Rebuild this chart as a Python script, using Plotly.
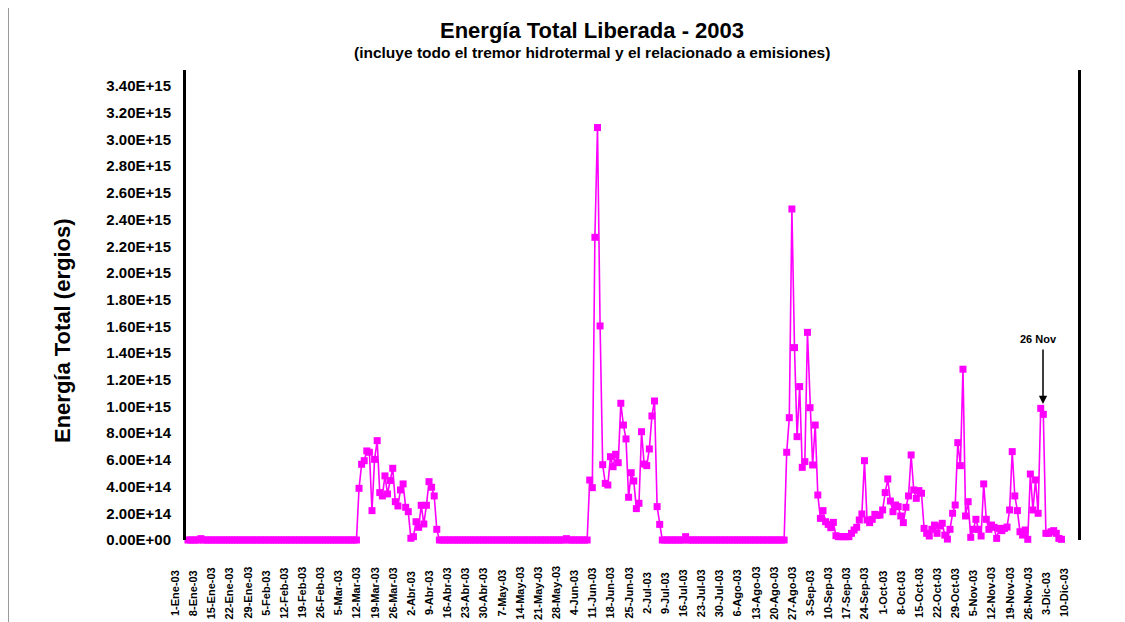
import pandas as pd
import plotly.graph_objects as go

# ---------------- data ----------------
start_date = "2003-01-06"

# daily total energy, in units of 1E14 ergios (Jan 6 .. Dec 9, 2003)
baseline_jan_mar = [
    0.0, 0.0, 0.0, 0.0, 0.0, 0.1, 0.0, 0.0, 0.0, 0.0,
    0.0, 0.0, 0.0, 0.0, 0.0, 0.0, 0.0, 0.0, 0.0, 0.0,
    0.0, 0.0, 0.0, 0.0, 0.0, 0.0, 0.0, 0.0, 0.0, 0.0,
    0.0, 0.0, 0.0, 0.0, 0.0, 0.0, 0.0, 0.0, 0.0, 0.0,
    0.0, 0.0, 0.0, 0.0, 0.0, 0.0, 0.0, 0.0, 0.0, 0.0,
    0.0, 0.0, 0.0, 0.0, 0.0, 0.0, 0.0, 0.0, 0.0, 0.0,
    0.0, 0.0, 0.0, 0.0, 0.0, 0.0,
]
cluster_mar_apr = [
    3.87, 5.67, 5.94, 6.67, 6.57, 2.2, 6.04, 7.44, 3.55, 3.3,
    4.8, 3.45, 4.45, 5.37, 2.87, 2.55, 3.75, 4.2, 2.45, 2.12,
    0.13, 0.25, 1.37, 0.95, 2.6, 1.2, 2.6, 4.37, 3.95, 3.3,
    0.8,
]
baseline_apr_jun = [
    0.0, 0.0, 0.0, 0.0, 0.0, 0.0, 0.0, 0.0, 0.0, 0.0,
    0.0, 0.0, 0.0, 0.0, 0.0, 0.0, 0.0, 0.0, 0.0, 0.0,
    0.0, 0.0, 0.0, 0.0, 0.0, 0.0, 0.0, 0.0, 0.0, 0.0,
    0.0, 0.0, 0.0, 0.0, 0.0, 0.0, 0.0, 0.0, 0.0, 0.0,
    0.0, 0.0, 0.0, 0.0, 0.0, 0.0, 0.0, 0.0, 0.0, 0.1,
    0.0, 0.0, 0.0, 0.0, 0.0, 0.0, 0.0, 0.0,
]
cluster_jun_jul = [
    4.49, 3.92, 22.67, 30.89, 16.03, 5.64, 4.24, 4.12, 6.24, 5.49,
    6.42, 5.79, 10.24, 8.61, 7.57, 3.2, 5.04, 4.42, 2.35, 2.75,
    8.11, 5.69, 5.57, 6.82, 9.29, 10.41, 2.5, 1.17,
]
baseline_jul_aug = [
    0.0, 0.0, 0.0, 0.0, 0.0, 0.0, 0.0, 0.0, 0.0, 0.25,
    0.0, 0.0, 0.0, 0.0, 0.0, 0.0, 0.0, 0.0, 0.0, 0.0,
    0.0, 0.0, 0.0, 0.0, 0.0, 0.0, 0.0, 0.0, 0.0, 0.0,
    0.0, 0.0, 0.0, 0.0, 0.0, 0.0, 0.0, 0.0, 0.0, 0.0,
    0.0, 0.0, 0.0, 0.0, 0.0, 0.0, 0.0, 0.0,
]
cluster_aug_dec = [
    6.57, 9.16, 24.79, 14.41, 7.74, 11.49, 5.44, 5.87, 15.55, 9.91,
    5.62, 8.61, 3.37, 1.62, 2.2, 1.37, 1.17, 0.92, 1.32, 0.32,
    0.25, 0.25, 0.25, 0.25, 0.25, 0.5, 0.75, 0.95, 1.5, 1.95,
    5.94, 1.5, 1.3, 1.55, 1.92, 1.85, 1.87, 2.25, 3.55, 4.57,
    2.92, 2.12, 2.62, 2.5, 1.8, 1.3, 2.45, 3.3, 6.37, 3.75,
    3.12, 3.7, 3.5, 0.87, 0.5, 0.3, 0.8, 1.12, 0.5, 1.05,
    1.25, 0.37, 0.07, 0.8, 2.0, 2.62, 7.29, 5.57, 12.79, 1.8,
    2.87, 0.2, 0.8, 1.55, 0.8, 0.3, 4.2, 1.55, 0.8, 1.12,
    0.95, 0.12, 0.87, 0.7, 0.87, 0.97, 2.25, 6.62, 3.3, 2.2,
    0.62, 0.37, 0.75, 0.05, 4.94, 2.25, 4.5, 2.0, 9.86, 9.41,
    0.5, 0.5, 0.62, 0.7, 0.5, 0.12, 0.05,
]

x_tick_dates = [
    "2003-01-01", "2003-01-08", "2003-01-15", "2003-01-22", "2003-01-29",
    "2003-02-05", "2003-02-12", "2003-02-19", "2003-02-26", "2003-03-05",
    "2003-03-12", "2003-03-19", "2003-03-26", "2003-04-02", "2003-04-09",
    "2003-04-16", "2003-04-23", "2003-04-30", "2003-05-07", "2003-05-14",
    "2003-05-21", "2003-05-28", "2003-06-04", "2003-06-11", "2003-06-18",
    "2003-06-25", "2003-07-02", "2003-07-09", "2003-07-16", "2003-07-23",
    "2003-07-30", "2003-08-06", "2003-08-13", "2003-08-20", "2003-08-27",
    "2003-09-03", "2003-09-10", "2003-09-17", "2003-09-24", "2003-10-01",
    "2003-10-08", "2003-10-15", "2003-10-22", "2003-10-29", "2003-11-05",
    "2003-11-12", "2003-11-19", "2003-11-26", "2003-12-03", "2003-12-10",
]
x_tick_labels = [
    "1-Ene-03", "8-Ene-03", "15-Ene-03", "22-Ene-03", "29-Ene-03",
    "5-Feb-03", "12-Feb-03", "19-Feb-03", "26-Feb-03", "5-Mar-03",
    "12-Mar-03", "19-Mar-03", "26-Mar-03", "2-Abr-03", "9-Abr-03",
    "16-Abr-03", "23-Abr-03", "30-Abr-03", "7-May-03", "14-May-03",
    "21-May-03", "28-May-03", "4-Jun-03", "11-Jun-03", "18-Jun-03",
    "25-Jun-03", "2-Jul-03", "9-Jul-03", "16-Jul-03", "23-Jul-03",
    "30-Jul-03", "6-Ago-03", "13-Ago-03", "20-Ago-03", "27-Ago-03",
    "3-Sep-03", "10-Sep-03", "17-Sep-03", "24-Sep-03", "1-Oct-03",
    "8-Oct-03", "15-Oct-03", "22-Oct-03", "29-Oct-03", "5-Nov-03",
    "12-Nov-03", "19-Nov-03", "26-Nov-03", "3-Dic-03", "10-Dic-03",
]
y_tick_values = [
    0.0, 2e14, 4e14, 6e14, 8e14, 1.0e15, 1.2e15, 1.4e15, 1.6e15,
    1.8e15, 2.0e15, 2.2e15, 2.4e15, 2.6e15, 2.8e15, 3.0e15, 3.2e15, 3.4e15,
]
y_tick_labels = [
    "0.00E+00", "2.00E+14", "4.00E+14", "6.00E+14", "8.00E+14", "1.00E+15",
    "1.20E+15", "1.40E+15", "1.60E+15", "1.80E+15", "2.00E+15", "2.20E+15",
    "2.40E+15", "2.60E+15", "2.80E+15", "3.00E+15", "3.20E+15", "3.40E+15",
]

title_text = "Energía Total Liberada - 2003"
subtitle_text = "(incluye todo el tremor hidrotermal y el relacionado a emisiones)"
y_title_text = "Energía Total (ergios)"
note_text = "26 Nov"

# ---------------- build ----------------
values_e14 = (baseline_jan_mar + cluster_mar_apr + baseline_apr_jun
              + cluster_jun_jul + baseline_jul_aug + cluster_aug_dec)
dates = pd.date_range(start_date, periods=len(values_e14), freq="D")
energy = [v * 1e14 for v in values_e14]

FONT = "Liberation Sans, Arial, sans-serif"
MAG = "#FF00FF"

# the page body has an 8px margin: figure drawn at screen offset (8, 8)
OFF = 8
W, H = 1125 - OFF, 622 - OFF
L, R, T, B = 186, 1078, 70, 540   # plot area in screen pixels
X_RANGE = ["2003-01-05 05:51", "2003-12-15 09:07"]


def px(x):
    return (x - L) / (R - L)


def py(y):
    return (B - y) / (B - T)


def date_frac(d):
    t0, t1 = pd.Timestamp(X_RANGE[0]), pd.Timestamp(X_RANGE[1])
    return (pd.Timestamp(d) - t0) / (t1 - t0)


fig = go.Figure()
fig.add_trace(go.Scatter(
    x=dates, y=energy, mode="lines+markers",
    line=dict(color=MAG, width=1.6),
    marker=dict(symbol="square", size=7, color=MAG, line=dict(width=0)),
    cliponaxis=False, showlegend=False,
))

ann = []
ann.append(dict(text=title_text, x=px(592), y=py(30), xref="paper", yref="paper",
                showarrow=False, xanchor="center", yanchor="middle",
                font=dict(family=FONT, size=22, color="black", weight="bold")))
ann.append(dict(text=subtitle_text, x=px(592), y=py(52), xref="paper", yref="paper",
                showarrow=False, xanchor="center", yanchor="middle",
                font=dict(family=FONT, size=15.5, color="black", weight="bold")))
ann.append(dict(text=y_title_text, x=px(62), y=py(330), xref="paper", yref="paper",
                showarrow=False, xanchor="center", yanchor="middle", textangle=-90,
                font=dict(family=FONT, size=22, color="black", weight="bold")))
for d, lab in zip(x_tick_dates, x_tick_labels):
    ann.append(dict(text=lab, x=date_frac(d), y=py(593), xref="paper", yref="paper",
                    showarrow=False, xanchor="center", yanchor="middle", textangle=-90,
                    font=dict(family=FONT, size=11, color="black", weight="bold")))
ann.append(dict(text=note_text, x=px(1038), y=py(339), xref="paper", yref="paper",
                showarrow=False, xanchor="center", yanchor="middle",
                font=dict(family=FONT, size=11, color="black", weight="bold")))
ann.append(dict(text="", x=px(1043), y=py(404), xref="paper", yref="paper",
                showarrow=True, ax=0, ay=-56, axref="pixel", ayref="pixel",
                arrowhead=2, arrowsize=1.1, arrowwidth=1.5, arrowcolor="black"))

fig.update_layout(
    width=W, height=H, autosize=False,
    margin=dict(l=L - OFF, r=W - (R - OFF), t=T - OFF, b=H - (B - OFF), pad=0),
    paper_bgcolor="white", plot_bgcolor="white",
    annotations=ann,
    shapes=[dict(type="line", xref="paper", yref="paper",
                 x0=px(8.5), x1=px(8.5), y0=py(OFF), y1=py(622),
                 line=dict(color="#9a9a9a", width=1))],
)
fig.update_xaxes(
    type="date", range=X_RANGE,
    showgrid=False, zeroline=False, showline=False, showticklabels=False, ticks="",
)
fig.update_yaxes(
    range=[0, 3.52e15],
    tickmode="array", tickvals=y_tick_values, ticktext=y_tick_labels,
    tickfont=dict(family=FONT, size=15, color="black", weight="bold"),
    ticks="", ticklabelstandoff=9,
    showgrid=False, zeroline=False,
    showline=True, linecolor="black", linewidth=3, mirror=True,
)

fig.write_html("out.html")
